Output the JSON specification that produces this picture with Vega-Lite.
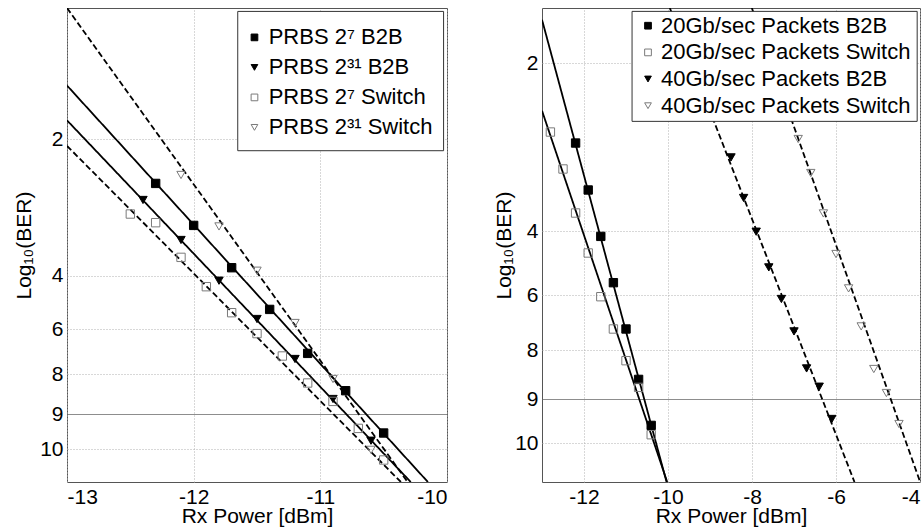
{
  "$schema": "https://vega.github.io/schema/vega-lite/v6.json",
  "background": "white",
  "padding": {"left": 12, "top": 7, "right": 0, "bottom": 0},
  "spacing": 95,
  "bounds": "flush",
  "config": {
    "font": "Liberation Sans",
    "view": {"stroke": "#555", "strokeWidth": 1},
    "axis": {
      "labelFont": "Liberation Sans", "labelFontSize": 21, "labelColor": "black",
      "titleFont": "Liberation Sans", "titleFontSize": 21, "titleFontWeight": "normal", "titleColor": "black",
      "ticks": false, "domain": false, "grid": true, "gridColor": "#b0b0b0", "gridDash": [1, 2], "gridWidth": 1
    }
  },
  "datasets": {
    "left_points": [
      {"series": "PRBS 2⁷ B2B", "power": -12.3, "log_ber": 2.646},
      {"series": "PRBS 2⁷ B2B", "power": -12.0, "log_ber": 3.262},
      {"series": "PRBS 2⁷ B2B", "power": -11.7, "log_ber": 3.883},
      {"series": "PRBS 2⁷ B2B", "power": -11.4, "log_ber": 5.265},
      {"series": "PRBS 2⁷ B2B", "power": -11.1, "log_ber": 7.084},
      {"series": "PRBS 2⁷ B2B", "power": -10.8, "log_ber": 8.418},
      {"series": "PRBS 2⁷ B2B", "power": -10.5, "log_ber": 9.54},
      {"series": "PRBS 2³¹ B2B", "power": -12.4, "log_ber": 2.889},
      {"series": "PRBS 2³¹ B2B", "power": -12.1, "log_ber": 3.476},
      {"series": "PRBS 2³¹ B2B", "power": -11.8, "log_ber": 4.188},
      {"series": "PRBS 2³¹ B2B", "power": -11.5, "log_ber": 5.625},
      {"series": "PRBS 2³¹ B2B", "power": -11.2, "log_ber": 7.333},
      {"series": "PRBS 2³¹ B2B", "power": -10.9, "log_ber": 8.625},
      {"series": "PRBS 2³¹ B2B", "power": -10.6, "log_ber": 9.759},
      {"series": "PRBS 2⁷ Switch", "power": -12.5, "log_ber": 3.095},
      {"series": "PRBS 2⁷ Switch", "power": -12.3, "log_ber": 3.222},
      {"series": "PRBS 2⁷ Switch", "power": -12.1, "log_ber": 3.731},
      {"series": "PRBS 2⁷ Switch", "power": -11.9, "log_ber": 4.413},
      {"series": "PRBS 2⁷ Switch", "power": -11.7, "log_ber": 5.388},
      {"series": "PRBS 2⁷ Switch", "power": -11.5, "log_ber": 6.204},
      {"series": "PRBS 2⁷ Switch", "power": -11.3, "log_ber": 7.2},
      {"series": "PRBS 2⁷ Switch", "power": -11.1, "log_ber": 8.225},
      {"series": "PRBS 2⁷ Switch", "power": -10.9, "log_ber": 8.685},
      {"series": "PRBS 2⁷ Switch", "power": -10.7, "log_ber": 9.409},
      {"series": "PRBS 2⁷ Switch", "power": -10.5, "log_ber": 10.329},
      {"series": "PRBS 2³¹ Switch", "power": -12.1, "log_ber": 2.522},
      {"series": "PRBS 2³¹ Switch", "power": -11.8, "log_ber": 3.277},
      {"series": "PRBS 2³¹ Switch", "power": -11.5, "log_ber": 3.927},
      {"series": "PRBS 2³¹ Switch", "power": -11.2, "log_ber": 5.775},
      {"series": "PRBS 2³¹ Switch", "power": -10.9, "log_ber": 8.125},
      {"series": "PRBS 2³¹ Switch", "power": -10.6, "log_ber": 10.02}
    ],
    "left_fits": [
      {"fit": "PRBS 2⁷ B2B", "power": -13, "log_ber": 1.59},
      {"fit": "PRBS 2⁷ B2B", "power": -10.151, "log_ber": 11},
      {"fit": "PRBS 2³¹ B2B", "power": -13, "log_ber": 1.855},
      {"fit": "PRBS 2³¹ B2B", "power": -10.286, "log_ber": 11},
      {"fit": "PRBS 2⁷ Switch", "power": -13, "log_ber": 2.095},
      {"fit": "PRBS 2⁷ Switch", "power": -10.364, "log_ber": 11},
      {"fit": "PRBS 2³¹ Switch", "power": -13, "log_ber": 1},
      {"fit": "PRBS 2³¹ Switch", "power": -10.311, "log_ber": 11}
    ],
    "right_points": [
      {"series": "20Gb/sec Packets B2B", "power": -12.2, "log_ber": 2.948},
      {"series": "20Gb/sec Packets B2B", "power": -11.9, "log_ber": 3.507},
      {"series": "20Gb/sec Packets B2B", "power": -11.6, "log_ber": 4.157},
      {"series": "20Gb/sec Packets B2B", "power": -11.3, "log_ber": 5.613},
      {"series": "20Gb/sec Packets B2B", "power": -11.0, "log_ber": 7.236},
      {"series": "20Gb/sec Packets B2B", "power": -10.7, "log_ber": 8.6},
      {"series": "20Gb/sec Packets B2B", "power": -10.4, "log_ber": 9.597},
      {"series": "20Gb/sec Packets Switch", "power": -12.8, "log_ber": 2.817},
      {"series": "20Gb/sec Packets Switch", "power": -12.5, "log_ber": 3.257},
      {"series": "20Gb/sec Packets Switch", "power": -12.2, "log_ber": 3.781},
      {"series": "20Gb/sec Packets Switch", "power": -11.9, "log_ber": 4.679},
      {"series": "20Gb/sec Packets Switch", "power": -11.6, "log_ber": 6.062},
      {"series": "20Gb/sec Packets Switch", "power": -11.3, "log_ber": 7.236},
      {"series": "20Gb/sec Packets Switch", "power": -11.0, "log_ber": 8.218},
      {"series": "20Gb/sec Packets Switch", "power": -10.7, "log_ber": 8.763},
      {"series": "20Gb/sec Packets Switch", "power": -10.4, "log_ber": 9.808},
      {"series": "40Gb/sec Packets B2B", "power": -8.5, "log_ber": 3.119},
      {"series": "40Gb/sec Packets B2B", "power": -8.2, "log_ber": 3.602},
      {"series": "40Gb/sec Packets B2B", "power": -7.9, "log_ber": 4.009},
      {"series": "40Gb/sec Packets B2B", "power": -7.6, "log_ber": 5.132},
      {"series": "40Gb/sec Packets B2B", "power": -7.3, "log_ber": 6.145},
      {"series": "40Gb/sec Packets B2B", "power": -7.0, "log_ber": 7.324},
      {"series": "40Gb/sec Packets B2B", "power": -6.7, "log_ber": 8.376},
      {"series": "40Gb/sec Packets B2B", "power": -6.4, "log_ber": 8.749},
      {"series": "40Gb/sec Packets B2B", "power": -6.1, "log_ber": 9.452},
      {"series": "40Gb/sec Packets Switch", "power": -6.9, "log_ber": 2.9},
      {"series": "40Gb/sec Packets Switch", "power": -6.6, "log_ber": 3.305},
      {"series": "40Gb/sec Packets Switch", "power": -6.3, "log_ber": 3.786},
      {"series": "40Gb/sec Packets Switch", "power": -6.0, "log_ber": 4.711},
      {"series": "40Gb/sec Packets Switch", "power": -5.7, "log_ber": 5.792},
      {"series": "40Gb/sec Packets Switch", "power": -5.4, "log_ber": 7.142},
      {"series": "40Gb/sec Packets Switch", "power": -5.1, "log_ber": 8.388},
      {"series": "40Gb/sec Packets Switch", "power": -4.8, "log_ber": 8.878},
      {"series": "40Gb/sec Packets Switch", "power": -4.5, "log_ber": 9.566}
    ],
    "right_fits": [
      {"fit": "20Gb/sec Packets B2B", "power": -13, "log_ber": 1.211},
      {"fit": "20Gb/sec Packets B2B", "power": -10.034, "log_ber": 11},
      {"fit": "20Gb/sec Packets Switch", "power": -13, "log_ber": 2.563},
      {"fit": "20Gb/sec Packets Switch", "power": -10.019, "log_ber": 11},
      {"fit": "40Gb/sec Packets B2B", "power": -9.957, "log_ber": 1},
      {"fit": "40Gb/sec Packets B2B", "power": -5.56, "log_ber": 11},
      {"fit": "40Gb/sec Packets Switch", "power": -8.004, "log_ber": 1},
      {"fit": "40Gb/sec Packets Switch", "power": -3.996, "log_ber": 11}
    ]
  },
  "hconcat": [
    {
      "width": 380,
      "height": 474,
      "layer": [
        {
          "data": {"name": "left_fits"},
          "mark": {"type": "line", "color": "black", "strokeWidth": 1.8, "clip": true},
          "encoding": {
            "x": {
              "field": "power", "type": "quantitative",
              "scale": {"domain": [-13, -10], "nice": false, "zero": false},
              "axis": {"values": [-13, -12, -11, -10], "title": "Rx Power [dBm]", "labelExpr": "'' + datum.value", "labelPadding": 4, "titleY": 23, "titleBaseline": "top"}
            },
            "y": {
              "field": "log_ber", "type": "quantitative",
              "scale": {"domain": [1, 2, 4, 6, 8, 9, 10, 11], "range": [0, 131.4, 267.7, 321, 366, 406, 441.2, 474], "nice": false, "zero": false},
              "axis": {
                "values": [2, 4, 6, 8, 9, 10], "title": "Log₁₀(BER)", "labelExpr": "'' + datum.value", "labelPadding": 4,
                "titleX": -37, "titleBaseline": "alphabetic",
                "gridDash": {"condition": {"test": "datum.value === 9", "value": [1, 0]}, "value": [1, 2]},
                "gridColor": {"condition": {"test": "datum.value === 9", "value": "#666"}, "value": "#b0b0b0"}
              }
            },
            "detail": {"field": "fit", "type": "nominal"},
            "strokeDash": {
              "field": "fit", "type": "nominal", "legend": null,
              "scale": {"domain": ["PRBS 2⁷ B2B", "PRBS 2³¹ B2B", "PRBS 2⁷ Switch", "PRBS 2³¹ Switch"], "range": [[1, 0], [1, 0], [6, 3], [6, 3]]}
            }
          }
        },
        {
          "data": {"name": "left_points"},
          "mark": {"type": "point", "size": 70, "strokeWidth": 1, "opacity": 1, "filled": true},
          "encoding": {
            "x": {"field": "power", "type": "quantitative"},
            "y": {"field": "log_ber", "type": "quantitative"},
            "shape": {
              "field": "series", "type": "nominal", "legend": null,
              "scale": {"domain": ["PRBS 2⁷ B2B", "PRBS 2³¹ B2B", "PRBS 2⁷ Switch", "PRBS 2³¹ Switch"], "range": ["square", "triangle-down", "square", "triangle-down"]}
            },
            "fill": {
              "field": "series", "type": "nominal", "legend": null,
              "scale": {"domain": ["PRBS 2⁷ B2B", "PRBS 2³¹ B2B", "PRBS 2⁷ Switch", "PRBS 2³¹ Switch"], "range": ["black", "black", "transparent", "transparent"]}
            },
            "stroke": {
              "field": "series", "type": "nominal", "legend": null,
              "scale": {"domain": ["PRBS 2⁷ B2B", "PRBS 2³¹ B2B", "PRBS 2⁷ Switch", "PRBS 2³¹ Switch"], "range": ["black", "black", "#7a7a7a", "#7a7a7a"]}
            }
          }
        },
        {
          "data": {"values": [{}]},
          "mark": {"type": "rect", "fill": "white", "stroke": "#333", "strokeWidth": 1},
          "encoding": {
            "x": {"datum": -11.652, "type": "quantitative"},
            "x2": {"datum": -10.027},
            "y": {"datum": 1.026, "type": "quantitative"},
            "y2": {"datum": 2.166}
          }
        },
        {
          "data": {"values": [{}]},
          "mark": {"type": "point", "shape": "square", "size": 45, "filled": true, "fill": "black", "stroke": "black", "strokeWidth": 1, "opacity": 1},
          "encoding": {"x": {"datum": -11.52, "type": "quantitative"}, "y": {"datum": 1.2237, "type": "quantitative"}}
        },
        {
          "data": {"values": [{}]},
          "mark": {"type": "point", "shape": "triangle-down", "size": 45, "filled": true, "fill": "black", "stroke": "black", "strokeWidth": 1, "opacity": 1},
          "encoding": {"x": {"datum": -11.52, "type": "quantitative"}, "y": {"datum": 1.4521, "type": "quantitative"}}
        },
        {
          "data": {"values": [{}]},
          "mark": {"type": "point", "shape": "square", "size": 45, "filled": true, "fill": "white", "stroke": "#7a7a7a", "strokeWidth": 1, "opacity": 1},
          "encoding": {"x": {"datum": -11.52, "type": "quantitative"}, "y": {"datum": 1.6804, "type": "quantitative"}}
        },
        {
          "data": {"values": [{}]},
          "mark": {"type": "point", "shape": "triangle-down", "size": 45, "filled": true, "fill": "white", "stroke": "#7a7a7a", "strokeWidth": 1, "opacity": 1},
          "encoding": {"x": {"datum": -11.52, "type": "quantitative"}, "y": {"datum": 1.9087, "type": "quantitative"}}
        },
        {
          "data": {"values": [{}]},
          "mark": {"type": "text", "text": "PRBS 2⁷ B2B", "align": "left", "baseline": "middle", "font": "Liberation Sans", "fontSize": 22, "color": "black"},
          "encoding": {"x": {"datum": -11.408, "type": "quantitative"}, "y": {"datum": 1.2237, "type": "quantitative"}}
        },
        {
          "data": {"values": [{}]},
          "mark": {"type": "text", "text": "PRBS 2³¹ B2B", "align": "left", "baseline": "middle", "font": "Liberation Sans", "fontSize": 22, "color": "black"},
          "encoding": {"x": {"datum": -11.408, "type": "quantitative"}, "y": {"datum": 1.4521, "type": "quantitative"}}
        },
        {
          "data": {"values": [{}]},
          "mark": {"type": "text", "text": "PRBS 2⁷ Switch", "align": "left", "baseline": "middle", "font": "Liberation Sans", "fontSize": 22, "color": "black"},
          "encoding": {"x": {"datum": -11.408, "type": "quantitative"}, "y": {"datum": 1.6804, "type": "quantitative"}}
        },
        {
          "data": {"values": [{}]},
          "mark": {"type": "text", "text": "PRBS 2³¹ Switch", "align": "left", "baseline": "middle", "font": "Liberation Sans", "fontSize": 22, "color": "black"},
          "encoding": {"x": {"datum": -11.408, "type": "quantitative"}, "y": {"datum": 1.9087, "type": "quantitative"}}
        }
      ]
    },
    {
      "width": 378,
      "height": 474,
      "layer": [
        {
          "data": {"name": "right_fits"},
          "mark": {"type": "line", "color": "black", "strokeWidth": 1.8, "clip": true},
          "encoding": {
            "x": {
              "field": "power", "type": "quantitative",
              "scale": {"domain": [-13, -4], "nice": false, "zero": false},
              "axis": {"values": [-12, -10, -8, -6, -4], "title": "Rx Power [dBm]", "labelExpr": "'' + datum.value", "labelPadding": 4, "titleY": 23, "titleBaseline": "top"}
            },
            "y": {
              "field": "log_ber", "type": "quantitative",
              "scale": {"domain": [1, 2, 4, 6, 8, 9, 10, 11], "range": [0, 55.4, 223.4, 287, 342, 391, 435.2, 474], "nice": false, "zero": false},
              "axis": {
                "values": [2, 4, 6, 8, 9, 10], "title": "Log₁₀(BER)", "labelExpr": "'' + datum.value", "labelPadding": 4,
                "titleX": -32, "titleBaseline": "alphabetic",
                "gridDash": {"condition": {"test": "datum.value === 9", "value": [1, 0]}, "value": [1, 2]},
                "gridColor": {"condition": {"test": "datum.value === 9", "value": "#666"}, "value": "#b0b0b0"}
              }
            },
            "detail": {"field": "fit", "type": "nominal"},
            "strokeDash": {
              "field": "fit", "type": "nominal", "legend": null,
              "scale": {"domain": ["20Gb/sec Packets B2B", "20Gb/sec Packets Switch", "40Gb/sec Packets B2B", "40Gb/sec Packets Switch"], "range": [[1, 0], [1, 0], [6, 3], [6, 3]]}
            }
          }
        },
        {
          "data": {"name": "right_points"},
          "mark": {"type": "point", "size": 70, "strokeWidth": 1, "opacity": 1, "filled": true},
          "encoding": {
            "x": {"field": "power", "type": "quantitative"},
            "y": {"field": "log_ber", "type": "quantitative"},
            "shape": {
              "field": "series", "type": "nominal", "legend": null,
              "scale": {"domain": ["20Gb/sec Packets B2B", "20Gb/sec Packets Switch", "40Gb/sec Packets B2B", "40Gb/sec Packets Switch"], "range": ["square", "square", "triangle-down", "triangle-down"]}
            },
            "fill": {
              "field": "series", "type": "nominal", "legend": null,
              "scale": {"domain": ["20Gb/sec Packets B2B", "20Gb/sec Packets Switch", "40Gb/sec Packets B2B", "40Gb/sec Packets Switch"], "range": ["black", "transparent", "black", "transparent"]}
            },
            "stroke": {
              "field": "series", "type": "nominal", "legend": null,
              "scale": {"domain": ["20Gb/sec Packets B2B", "20Gb/sec Packets Switch", "40Gb/sec Packets B2B", "40Gb/sec Packets Switch"], "range": ["black", "#7a7a7a", "black", "#7a7a7a"]}
            }
          }
        },
        {
          "data": {"values": [{}]},
          "mark": {"type": "rect", "fill": "white", "stroke": "#333", "strokeWidth": 1},
          "encoding": {
            "x": {"datum": -10.856, "type": "quantitative"},
            "x2": {"datum": -4.067},
            "y": {"datum": 1.061, "type": "quantitative"},
            "y2": {"datum": 2.69}
          }
        },
        {
          "data": {"values": [{}]},
          "mark": {"type": "point", "shape": "square", "size": 45, "filled": true, "fill": "black", "stroke": "black", "strokeWidth": 1, "opacity": 1},
          "encoding": {"x": {"datum": -10.476, "type": "quantitative"}, "y": {"datum": 1.3195, "type": "quantitative"}}
        },
        {
          "data": {"values": [{}]},
          "mark": {"type": "point", "shape": "square", "size": 45, "filled": true, "fill": "white", "stroke": "#7a7a7a", "strokeWidth": 1, "opacity": 1},
          "encoding": {"x": {"datum": -10.476, "type": "quantitative"}, "y": {"datum": 1.8014, "type": "quantitative"}}
        },
        {
          "data": {"values": [{}]},
          "mark": {"type": "point", "shape": "triangle-down", "size": 45, "filled": true, "fill": "black", "stroke": "black", "strokeWidth": 1, "opacity": 1},
          "encoding": {"x": {"datum": -10.476, "type": "quantitative"}, "y": {"datum": 2.1857, "type": "quantitative"}}
        },
        {
          "data": {"values": [{}]},
          "mark": {"type": "point", "shape": "triangle-down", "size": 45, "filled": true, "fill": "white", "stroke": "#7a7a7a", "strokeWidth": 1, "opacity": 1},
          "encoding": {"x": {"datum": -10.476, "type": "quantitative"}, "y": {"datum": 2.5036, "type": "quantitative"}}
        },
        {
          "data": {"values": [{}]},
          "mark": {"type": "text", "text": "20Gb/sec Packets B2B", "align": "left", "baseline": "middle", "font": "Liberation Sans", "fontSize": 22, "color": "black"},
          "encoding": {"x": {"datum": -10.167, "type": "quantitative"}, "y": {"datum": 1.3195, "type": "quantitative"}}
        },
        {
          "data": {"values": [{}]},
          "mark": {"type": "text", "text": "20Gb/sec Packets Switch", "align": "left", "baseline": "middle", "font": "Liberation Sans", "fontSize": 22, "color": "black"},
          "encoding": {"x": {"datum": -10.167, "type": "quantitative"}, "y": {"datum": 1.8014, "type": "quantitative"}}
        },
        {
          "data": {"values": [{}]},
          "mark": {"type": "text", "text": "40Gb/sec Packets B2B", "align": "left", "baseline": "middle", "font": "Liberation Sans", "fontSize": 22, "color": "black"},
          "encoding": {"x": {"datum": -10.167, "type": "quantitative"}, "y": {"datum": 2.1857, "type": "quantitative"}}
        },
        {
          "data": {"values": [{}]},
          "mark": {"type": "text", "text": "40Gb/sec Packets Switch", "align": "left", "baseline": "middle", "font": "Liberation Sans", "fontSize": 22, "color": "black"},
          "encoding": {"x": {"datum": -10.167, "type": "quantitative"}, "y": {"datum": 2.5036, "type": "quantitative"}}
        }
      ]
    }
  ],
  "resolve": {
    "scale": {"x": "independent", "y": "independent", "shape": "independent", "fill": "independent", "stroke": "independent", "strokeDash": "independent"}
  }
}
